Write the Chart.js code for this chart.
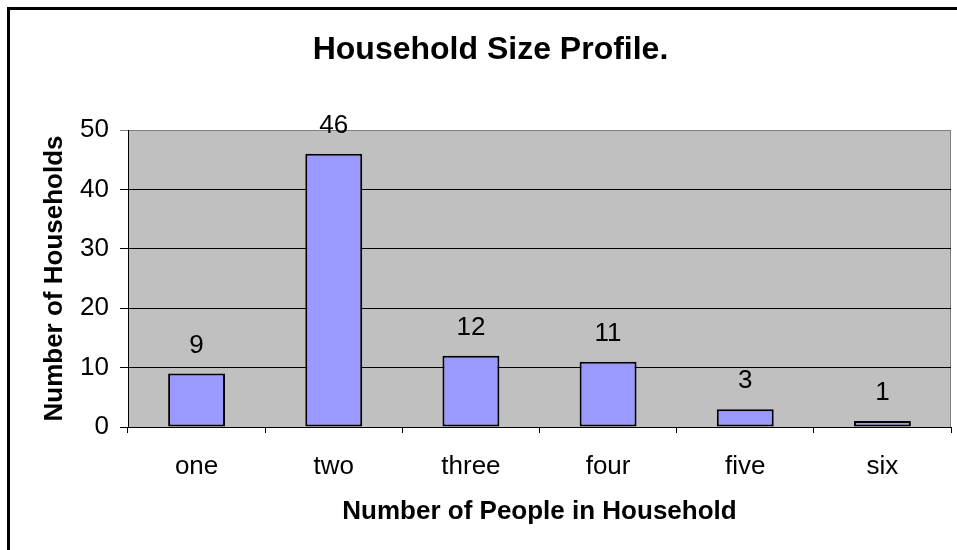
<!DOCTYPE html>
<html>
<head>
<meta charset="utf-8">
<script src="https://cdn.jsdelivr.net/npm/chart.js@4"></script>
<style>
    html, body { margin: 0; padding: 0; background: #fff; overflow: hidden; width: 957px; height: 550px; }
    #frame { position: absolute; left: 7px; top: 7px; width: 1100px; height: 700px; border-left: 3px solid #000; border-top: 3px solid #000; }
    #chart { position: absolute; left: 0; top: 0; }
</style>
</head>
<body>
<div id="frame"></div>
<canvas id="chart" width="980" height="550"></canvas>
<script>
const categories = ['one', 'two', 'three', 'four', 'five', 'six'];
const households = [9, 46, 12, 11, 3, 1];
const yMax = 50;
const yStep = 10;

const FONT = '"Liberation Sans", Arial, sans-serif';

// fond gris de la zone de tracé
const plotBackground = {
    id: 'plotBackground',
    beforeDraw(chart) {
        const { ctx, chartArea: a } = chart;
        ctx.save();
        ctx.fillStyle = '#C0C0C0';
        ctx.fillRect(a.left, a.top, a.right - a.left, a.bottom - a.top);
        ctx.strokeStyle = '#808080';
        ctx.lineWidth = 1;
        ctx.beginPath();
        ctx.moveTo(a.left, a.top + 0.5);
        ctx.lineTo(a.right - 0.5, a.top + 0.5);
        ctx.lineTo(a.right - 0.5, a.bottom);
        ctx.stroke();
        ctx.restore();
    }
};

// étiquettes de valeurs au-dessus des barres
const valueLabels = {
    id: 'valueLabels',
    afterDatasetsDraw(chart) {
        const { ctx } = chart;
        const meta = chart.getDatasetMeta(0);
        ctx.save();
        ctx.font = '26px ' + FONT;
        ctx.fillStyle = '#000';
        ctx.textAlign = 'center';
        ctx.textBaseline = 'middle';
        meta.data.forEach((bar, i) => {
            ctx.fillText(String(households[i]), bar.x, bar.y - 28);
        });
        ctx.restore();
    }
};

new Chart(document.getElementById('chart').getContext('2d'), {
    type: 'bar',
    data: {
        labels: categories,
        datasets: [{
            data: households,
            backgroundColor: '#9999FF',
            borderColor: '#000',
            borderWidth: 2,
            borderSkipped: false,
            categoryPercentage: 1,
            barPercentage: 0.415
        }]
    },
    options: {
        responsive: false,
        animation: false,
        devicePixelRatio: 1,
        layout: { padding: { left: 30, right: 29, top: 0, bottom: 0 } },
        plugins: {
            legend: { display: false },
            tooltip: { enabled: false },
            title: {
                display: true,
                text: 'Household Size Profile.',
                color: '#000',
                font: { family: FONT, size: 32, weight: 'bold' },
                padding: { top: 31, bottom: 60.6 }
            }
        },
        scales: {
            x: {
                grid: {
                    drawOnChartArea: false,
                    drawTicks: true,
                    tickLength: 6,
                    color: '#000'
                },
                border: { color: '#000', width: 1 },
                ticks: {
                    color: '#000',
                    font: { family: FONT, size: 26 },
                    padding: 18
                },
                title: {
                    display: true,
                    text: 'Number of People in Household',
                    color: '#000',
                    font: { family: FONT, size: 26, weight: 'bold' },
                    padding: { top: 0, bottom: 22.4 }
                },
                afterFit(scale) { scale.height = 123; }
            },
            y: {
                min: 0,
                max: yMax,
                grid: {
                    color: ctx => (ctx.tick && ctx.tick.value === yMax) ? '#808080' : '#000',
                    tickLength: 8,
                    drawTicks: true
                },
                border: { color: '#000', width: 1 },
                ticks: {
                    stepSize: yStep,
                    color: '#000',
                    font: { family: FONT, size: 26 },
                    padding: 11
                },
                title: {
                    display: true,
                    text: 'Number of Households',
                    color: '#000',
                    font: { family: FONT, size: 26, weight: 'bold' },
                    padding: { top: 9.4, bottom: 0 }
                },
                afterFit(scale) { scale.width = 98; }
            }
        }
    },
    plugins: [plotBackground, valueLabels]
});
</script>
</body>
</html>
